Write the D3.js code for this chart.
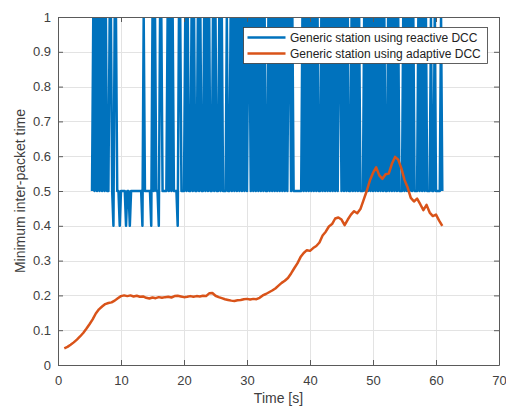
<!DOCTYPE html>
<html>
<head>
<meta charset="utf-8">
<script src="https://cdn.jsdelivr.net/npm/d3@7"></script>
<style>
  body { margin: 0; background: #fff; }
  svg { display: block; }
  text { font-family: "Liberation Sans", Arial, Helvetica, sans-serif; }
</style>
</head>
<body>
<svg id="chart" width="506" height="407"></svg>
<script>
// ---- axis ticks ----
const xTicks = [0, 10, 20, 30, 40, 50, 60, 70];
const yTicks = [0, 0.1, 0.2, 0.3, 0.4, 0.5, 0.6, 0.7, 0.8, 0.9, 1];
const yTickLabels = ["0", "0.1", "0.2", "0.3", "0.4", "0.5", "0.6", "0.7", "0.8", "0.9", "1"];

// ---- series names ----
const seriesNames = ["Generic station using reactive DCC", "Generic station using adaptive DCC"];

// ---- reactive DCC: minimum inter-packet time sampled every 0.2 s from t = 5 s ----
// one string per second (samples at .0 .2 .4 .6 .8); '1' = 1 s, '5' = 0.5 s, '4' = 0.4 s, '.' = no sample
const reactiveStart = 5.0;
const reactiveStep = 0.2;
const reactiveCodes = [
  "..515", "15151", "51515", "51154", "11554", // 5 - 9 s
  "55554", "55455", "55555", "55415", "55554", // 10 - 14 s
  "15155", "41155", "55151", "51555", "41155", // 15 - 19 s
  "51515", "51515", "51515", "51515", "15515", // 20 - 24 s
  "15515", "15551", "55151", "51515", "15151", // 25 - 29 s
  "51151", "51515", "15151", "55151", "51515", // 30 - 34 s
  "15151", "51511", "51555", "55551", "51515", // 35 - 39 s
  "15151", "51551", "51515", "15151", "51511", // 40 - 44 s
  "51515", "15515", "15151", "55515", "15151", // 45 - 49 s
  "51515", "15151", "55151", "51515", "15551", // 50 - 54 s
  "51515", "15155", "51515", "15155", "51551", // 55 - 59 s
  "55551", "5"                                  // 60 - 61 s
];
const reactiveCodeValue = { "1": 1, "5": 0.5, "4": 0.4 };

// ---- adaptive DCC: minimum inter-packet time sampled every 0.5 s from t = 1 s ----
const adaptiveStart = 1.0;
const adaptiveStep = 0.5;
const adaptiveValues = [
  0.048, 0.052, 0.058, 0.065, 0.073, 0.082, 0.092, 0.104, 0.117, 0.131, // 1 - 5.5
  0.148, 0.160, 0.168, 0.175, 0.178, 0.180, 0.185, 0.192, 0.198, 0.200, // 6 - 10.5
  0.198, 0.200, 0.197, 0.199, 0.196, 0.197, 0.193, 0.191, 0.194, 0.192, // 11 - 15.5
  0.195, 0.193, 0.195, 0.196, 0.194, 0.198, 0.199, 0.197, 0.195, 0.196, // 16 - 20.5
  0.198, 0.196, 0.198, 0.197, 0.199, 0.198, 0.206, 0.207, 0.199, 0.195, // 21 - 25.5
  0.192, 0.189, 0.187, 0.185, 0.184, 0.186, 0.187, 0.189, 0.190, 0.188, // 26 - 30.5
  0.190, 0.189, 0.193, 0.200, 0.204, 0.209, 0.214, 0.220, 0.228, 0.236, // 31 - 35.5
  0.242, 0.250, 0.263, 0.278, 0.292, 0.310, 0.322, 0.330, 0.328, 0.336, // 36 - 40.5
  0.342, 0.352, 0.372, 0.383, 0.398, 0.405, 0.421, 0.424, 0.418, 0.402, // 41 - 45.5
  0.418, 0.432, 0.442, 0.436, 0.448, 0.474, 0.500, 0.530, 0.552, 0.568, // 46 - 50.5
  0.545, 0.535, 0.548, 0.550, 0.578, 0.598, 0.590, 0.565, 0.532, 0.510, // 51 - 55.5
  0.480, 0.470, 0.478, 0.462, 0.445, 0.460, 0.438, 0.428, 0.432, 0.415, // 56 - 60.5
  0.400                                                                  // 61
];

// ---- build point lists ----
const reactivePoints = reactiveCodes.join("").split("").map((c, i) => ({
  t: reactiveStart + i * reactiveStep,
  v: c in reactiveCodeValue ? reactiveCodeValue[c] : null
}));
const adaptivePoints = adaptiveValues.map((v, i) => ({ t: adaptiveStart + i * adaptiveStep, v }));

// ---- layout ----
const svg = d3.select("#chart");
const plot = { left: 58, right: 499, top: 17, bottom: 365 };
const x = d3.scaleLinear().domain([0, 70]).range([plot.left, plot.right]);
const y = d3.scaleLinear().domain([0, 1]).range([plot.bottom, plot.top]);

const axisColor = "#5a5a5a";
const textColor = "#404040";

svg.append("defs").append("clipPath").attr("id", "plot-clip")
  .append("rect")
  .attr("x", plot.left).attr("y", plot.top)
  .attr("width", plot.right - plot.left).attr("height", plot.bottom - plot.top);

// grid
const grid = svg.append("g").attr("stroke", "#e3e3e3").attr("stroke-width", 1);
grid.selectAll("line.gx").data(xTicks.slice(1, -1)).join("line")
  .attr("x1", d => Math.round(x(d)) + 0.5).attr("x2", d => Math.round(x(d)) + 0.5)
  .attr("y1", plot.top).attr("y2", plot.bottom);
grid.selectAll("line.gy").data(yTicks.slice(1, -1)).join("line")
  .attr("y1", d => Math.round(y(d)) + 0.5).attr("y2", d => Math.round(y(d)) + 0.5)
  .attr("x1", plot.left).attr("x2", plot.right);

// data lines
const data = svg.append("g").attr("clip-path", "url(#plot-clip)");
const line = d3.line().defined(d => d.v !== null).x(d => x(d.t)).y(d => y(d.v));

data.append("path")
  .datum(reactivePoints)
  .attr("d", line)
  .attr("fill", "none")
  .attr("stroke", "#0072BD")
  .attr("stroke-width", 2.5)
  .attr("stroke-linejoin", "round");

data.append("path")
  .datum(adaptivePoints)
  .attr("d", line)
  .attr("fill", "none")
  .attr("stroke", "#D95319")
  .attr("stroke-width", 2.5)
  .attr("stroke-linejoin", "round");

// axes (box with inward ticks on all four sides)
function styleAxis(g) {
  g.selectAll(".domain").attr("stroke", axisColor);
  g.selectAll(".tick line").attr("stroke", axisColor);
  g.selectAll(".tick text").attr("fill", textColor).attr("font-size", 13)
    .attr("font-family", "'Liberation Sans', Arial, sans-serif");
}

svg.append("g")
  .attr("transform", `translate(0,${plot.bottom})`)
  .call(d3.axisBottom(x).tickValues(xTicks).tickFormat(d3.format("d")).tickSize(-5).tickSizeOuter(0).tickPadding(11))
  .call(styleAxis);

svg.append("g")
  .attr("transform", `translate(${plot.left},0)`)
  .call(d3.axisLeft(y).tickValues(yTicks).tickFormat((d, i) => yTickLabels[i]).tickSize(-5).tickSizeOuter(0).tickPadding(7))
  .call(styleAxis);

svg.append("g")
  .attr("transform", `translate(0,${plot.top})`)
  .call(d3.axisTop(x).tickValues(xTicks).tickFormat("").tickSize(-5).tickSizeOuter(0))
  .call(styleAxis);

svg.append("g")
  .attr("transform", `translate(${plot.right},0)`)
  .call(d3.axisRight(y).tickValues(yTicks).tickFormat("").tickSize(-5).tickSizeOuter(0))
  .call(styleAxis);

// axis titles
svg.append("text")
  .attr("x", (plot.left + plot.right) / 2).attr("y", 403)
  .attr("text-anchor", "middle").attr("font-size", 14).attr("fill", textColor)
  .text("Time [s]");

svg.append("text")
  .attr("transform", `translate(25,${(plot.top + plot.bottom) / 2}) rotate(-90)`)
  .attr("text-anchor", "middle").attr("font-size", 14).attr("fill", textColor)
  .text("Minimum inter-packet time");

// legend
const legend = svg.append("g").attr("transform", "translate(243.5,27.5)");
legend.append("rect")
  .attr("width", 244).attr("height", 36)
  .attr("fill", "#fff").attr("stroke", "#3a3a3a").attr("stroke-width", 0.8);
const legendColors = ["#0072BD", "#D95319"];
const legendRows = legend.selectAll("g.row").data(seriesNames).join("g")
  .attr("transform", (d, i) => `translate(0,${10 + i * 16})`);
legendRows.append("line")
  .attr("x1", 4).attr("x2", 42).attr("y1", 0).attr("y2", 0)
  .attr("stroke", (d, i) => legendColors[i]).attr("stroke-width", 2.5);
legendRows.append("text")
  .attr("x", 46.5).attr("y", 4.3)
  .attr("font-size", 12).attr("fill", "#222")
  .text(d => d);
</script>
</body>
</html>
